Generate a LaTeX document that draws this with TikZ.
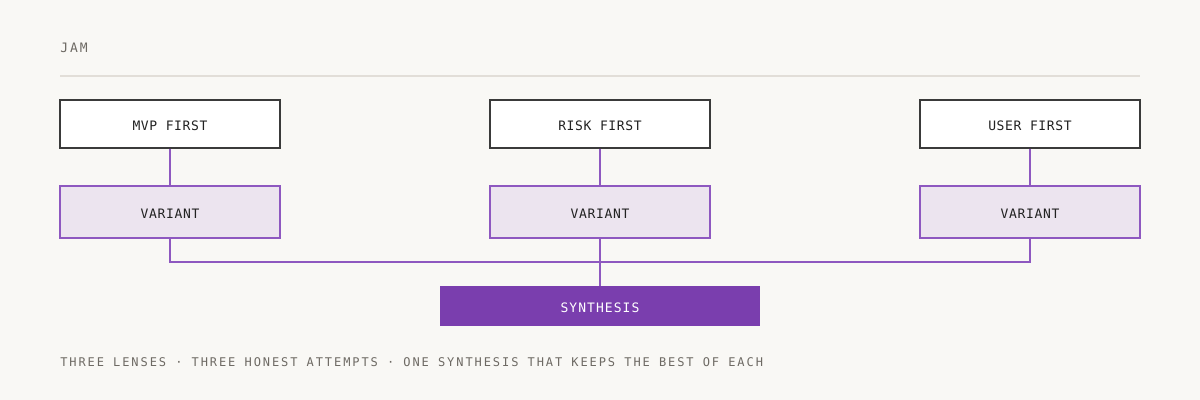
\documentclass[tikz,border=0pt]{standalone}
\usepackage{fontspec}
\usepackage{tikz}
\usetikzlibrary{shapes,arrows}
\newfontfamily\titlefont[LetterSpace=15]{DejaVu Sans Mono}
\newfontfamily\boxfont[LetterSpace=5]{DejaVu Sans Mono}
\newfontfamily\synthfont[LetterSpace=8]{DejaVu Sans Mono}
\newfontfamily\notefont[LetterSpace=16]{DejaVu Sans Mono}
\definecolor{bgPaper}{HTML}{F9F8F5}
\definecolor{rulePaper}{HTML}{E2DED8}
\definecolor{inkDark}{HTML}{222222}
\definecolor{inkGray}{HTML}{6E6A64}
\definecolor{edgeBox}{HTML}{3A3A3A}
\definecolor{purpleLine}{HTML}{8E58C0}
\definecolor{purpleFill}{HTML}{ECE4EF}
\definecolor{purpleDeep}{HTML}{7A3EAE}
\tikzstyle{blockLens} = [rectangle, draw=edgeBox, fill=white, line width=1.1pt, minimum width=165pt, minimum height=36pt, text height=10pt, text depth=0pt, text=inkDark, font=\fontsize{9.75}{12}\boxfont]
\tikzstyle{blockVar} = [rectangle, draw=purpleLine, fill=purpleFill, line width=1.1pt, minimum width=165pt, minimum height=39pt, text height=10pt, text depth=0pt, text=inkDark, font=\fontsize{9.75}{12}\boxfont]
\tikzstyle{blockSynth} = [rectangle, fill=purpleDeep, minimum width=240pt, minimum height=30pt, text height=10pt, text depth=0pt, text=white, font=\fontsize{9.75}{12}\synthfont]
\tikzstyle{line} = [draw=purpleLine, line width=1.1pt]
\begin{document}
\begin{tikzpicture}[x=0.75pt, y=-0.75pt]
    % fondo
    \fill [bgPaper] (0,0) rectangle (1200,400);
    \useasboundingbox (0,0) rectangle (1200,400);

    % header
    \node [anchor=base west, inner sep=0pt, text=inkGray, font=\fontsize{9.75}{12}\titlefont] (jam_title) at (60,52) {JAM};
    \draw [rulePaper, line width=1.2pt] (60,76) -- (1140,76);

    % nodes
    \node [blockLens] (mvp_first) at (170,124) {MVP FIRST};
    \node [blockLens] (risk_first) at (600,124) {RISK FIRST};
    \node [blockLens] (user_first) at (1030,124) {USER FIRST};
    \node [blockVar] (var_mvp) at (170,212) {VARIANT};
    \node [blockVar] (var_risk) at (600,212) {VARIANT};
    \node [blockVar] (var_user) at (1030,212) {VARIANT};
    \node [blockSynth] (synth) at (600,306) {SYNTHESIS};
    \coordinate (bus) at (600,262);

    % edges
    \path [line] (mvp_first) -- (var_mvp);
    \path [line] (risk_first) -- (var_risk);
    \path [line] (user_first) -- (var_user);
    \path [line] (var_mvp.south) |- (bus);
    \path [line] (var_user.south) |- (bus);
    \path [line] (var_risk) -- (synth);

    % pie
    \node [anchor=base west, inner sep=0pt, text=inkGray, font=\fontsize{9}{11}\notefont] (foot_note) at (60,366) {THREE LENSES · THREE HONEST ATTEMPTS · ONE SYNTHESIS THAT KEEPS THE BEST OF EACH};
\end{tikzpicture}
\end{document}
